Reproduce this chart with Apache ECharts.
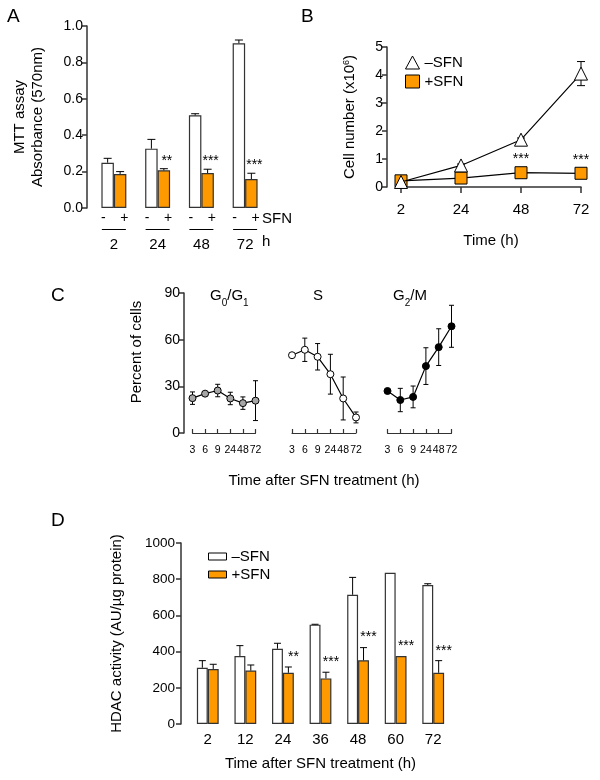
<!DOCTYPE html>
<html>
<head>
<meta charset="utf-8">
<script src="https://cdn.jsdelivr.net/npm/echarts@6/dist/echarts.min.js"></script>
<style>
html, body { margin: 0; padding: 0; background: #fff; }
#chart { width: 600px; height: 780px; }
</style>
</head>
<body>
<div id="chart"></div>
<script>
// Panel A - MTT assay (absorbance)
const mttTimes = ['2', '24', '48', '72'];
const mttMinus = [0.249, 0.326, 0.509, 0.905];
const mttMinusErr = [0.024, 0.051, 0.009, 0.018];
const mttPlus = [0.187, 0.207, 0.192, 0.159];
const mttPlusErr = [0.013, 0.009, 0.021, 0.032];
const mttStars = ['', '**', '***', '***'];

// Panel B - cell number (x10^6)
const cellTimes = ['2', '24', '48', '72'];
const cellMinus = [0.18, 0.77, 1.69, 4.05];
const cellMinusErr = [0.03, 0.05, 0.06, 0.43];
const cellPlus = [0.22, 0.32, 0.51, 0.49];
const cellPlusErr = [0.03, 0.04, 0.04, 0.04];
const cellStars = ['', '', '***', '***'];

// Panel C - cell cycle distribution (%)
const cycleTimes = ['3', '6', '9', '24', '48', '72'];
const g0g1 = [22.4, 25.3, 27.3, 22.2, 19.2, 20.8];
const g0g1Err = [4, 1, 4, 4, 4, 12.8];
const sPhase = [50, 53.5, 49, 37.8, 22.2, 10];
const sPhaseErr = [0, 7.5, 8.5, 12.8, 13.8, 3.5];
const g2m = [27, 21.2, 23.2, 43, 55.2, 68.6];
const g2mErr = [0, 7.5, 7, 11.8, 11.8, 13.5];

// Panel D - HDAC activity
const hdacTimes = ['2', '12', '24', '36', '48', '60', '72'];
const hdacMinus = [311, 376, 416, 549, 714, 836, 768];
const hdacMinusErr = [39, 57, 30, 2, 96, 0, 7];
const hdacPlus = [304, 295, 283, 252, 352, 376, 283];
const hdacPlusErr = [26, 31, 32, 34, 70, 0, 67];
const hdacStars = ['', '', '**', '***', '***', '***', '***'];

const FONT = 'Liberation Sans, Arial, Helvetica, sans-serif';
const ORANGE = '#FF9900';
const AXIS = '#333';

const chart = echarts.init(document.getElementById('chart'));

function errorBars(xIdx, yIdx, means, errs, opts) {
  return {
    type: 'custom',
    xAxisIndex: xIdx,
    yAxisIndex: yIdx,
    z: opts.z || 3,
    silent: true,
    data: means.map((m, i) => [i, m, errs[i]]),
    renderItem: function (params, api) {
      const i = api.value(0);
      const mean = api.value(1);
      const err = api.value(2);
      const band = api.size([1, 0])[0];
      const x = api.coord([i, mean])[0] + (opts.shift || 0) * band;
      const yHi = api.coord([i, mean + err])[1];
      const yLo = api.coord([i, opts.both ? mean - err : mean])[1];
      const st = { stroke: '#000', lineWidth: 1 };
      const children = [];
      if (err > 0) {
        children.push({ type: 'line', shape: { x1: x, y1: yLo, x2: x, y2: yHi }, style: st });
        children.push({ type: 'line', shape: { x1: x - opts.cap, y1: yHi, x2: x + opts.cap, y2: yHi }, style: st });
        if (opts.both) {
          children.push({ type: 'line', shape: { x1: x - opts.cap, y1: yLo, x2: x + opts.cap, y2: yLo }, style: st });
        }
      }
      const star = opts.stars ? opts.stars[params.dataIndex] : '';
      if (star) {
        children.push({
          type: 'text',
          style: {
            text: star, x: x + (opts.starDx || 0), y: yHi - opts.starGap,
            align: 'center', verticalAlign: 'bottom',
            fontSize: 14, fontFamily: FONT, fill: '#000'
          }
        });
      }
      return { type: 'group', children: children };
    }
  };
}

function valueAxis(grid, min, max, interval, offset, extra) {
  return Object.assign({
    type: 'value', gridIndex: grid, min: min, max: max, interval: interval, offset: offset,
    splitLine: { show: false },
    axisLine: { show: true, lineStyle: { color: AXIS, width: 1.5 } },
    axisTick: { show: true, length: 5, lineStyle: { color: AXIS, width: 1.5 } },
    axisLabel: { fontSize: 14, fontFamily: FONT, color: '#000', margin: 4 },
    nameLocation: 'middle',
    nameTextStyle: { fontSize: 15, fontFamily: FONT, color: '#000' }
  }, extra || {});
}

function cycleXAxis(grid, extra) {
  return Object.assign({
    type: 'category', gridIndex: grid, data: cycleTimes, boundaryGap: false, offset: 9,
    axisLine: { show: true, lineStyle: { color: AXIS, width: 1.2 } },
    axisTick: { show: true, inside: true, length: 4, lineStyle: { color: AXIS, width: 1.2 } },
    axisLabel: { interval: 0, fontSize: 10.5, fontFamily: FONT, color: '#000', margin: 3 }
  }, extra || {});
}

function cycleLine(idx, name, values, fill) {
  return {
    type: 'line', name: name, xAxisIndex: idx, yAxisIndex: idx, data: values,
    symbol: 'circle', symbolSize: 7, z: 4,
    lineStyle: { color: '#000', width: 1.2 },
    itemStyle: { color: fill, borderColor: '#000', borderWidth: 1 }
  };
}

const subRich = {
  g: { fontSize: 15, fontFamily: FONT, lineHeight: 20, verticalAlign: 'top' },
  s: { fontSize: 10, fontFamily: FONT, lineHeight: 20, verticalAlign: 'bottom' }
};

const option = {
  animation: false,
  backgroundColor: '#fff',
  textStyle: { fontFamily: FONT },
  grid: [
    { left: 92, top: 26, width: 175, height: 182 },
    { left: 401, top: 47, width: 180, height: 140 },
    { left: 192.5, top: 293, width: 63, height: 140 },
    { left: 292, top: 293, width: 64, height: 140 },
    { left: 387.5, top: 293, width: 64, height: 140 },
    { left: 189, top: 543, width: 263, height: 181 }
  ],
  legend: [
    {
      orient: 'vertical', left: 400, top: 50, itemWidth: 14, itemHeight: 13, itemGap: 4,
      textStyle: { fontSize: 15, fontFamily: FONT, color: '#000' },
      data: [
        { name: '–SFN', icon: 'triangle', itemStyle: { color: '#fff', borderColor: '#000', borderWidth: 1 } },
        { name: '+SFN', icon: 'rect', itemStyle: { color: ORANGE, borderColor: '#000', borderWidth: 1 } }
      ]
    },
    {
      orient: 'vertical', left: 203, top: 544, itemWidth: 18, itemHeight: 7, itemGap: 3,
      textStyle: { fontSize: 15, fontFamily: FONT, color: '#000' },
      formatter: n => n.replace('HDAC ', ''),
      data: [
        { name: 'HDAC –SFN', icon: 'rect', itemStyle: { color: '#fff', borderColor: '#000', borderWidth: 1 } },
        { name: 'HDAC +SFN', icon: 'rect', itemStyle: { color: ORANGE, borderColor: '#000', borderWidth: 1 } }
      ]
    }
  ],
  xAxis: [
    {
      type: 'category', gridIndex: 0, data: mttTimes,
      axisLine: { show: false }, axisTick: { show: false },
      axisLabel: {
        interval: 0, margin: 2, fontFamily: FONT, color: '#000',
        formatter: v => '{m|-}{p|+}\n{ln| }\n{t|' + v + '}',
        rich: {
          m: { width: 21, align: 'center', fontSize: 14, lineHeight: 16 },
          p: { width: 21, align: 'center', fontSize: 14, lineHeight: 16 },
          ln: { width: 24, height: 1, lineHeight: 7, backgroundColor: '#000', fontSize: 1 },
          t: { fontSize: 15, lineHeight: 20, padding: [3, 0, 0, 0] }
        }
      }
    },
    {
      type: 'category', gridIndex: 1, data: cellTimes, boundaryGap: false, offset: 6,
      axisLine: { show: true, lineStyle: { color: AXIS, width: 1.5 } },
      axisTick: { show: true, length: 6, lineStyle: { color: AXIS, width: 1.5 } },
      axisLabel: { fontSize: 15, fontFamily: FONT, color: '#000', margin: 9 },
      name: 'Time (h)', nameLocation: 'middle', nameGap: 40,
      nameTextStyle: { fontSize: 15, fontFamily: FONT, color: '#000' }
    },
    cycleXAxis(2),
    cycleXAxis(3, {
      name: 'Time after SFN treatment (h)', nameLocation: 'middle', nameGap: 31,
      nameTextStyle: { fontSize: 15, fontFamily: FONT, color: '#000' }
    }),
    cycleXAxis(4),
    {
      type: 'category', gridIndex: 5, data: hdacTimes,
      axisLine: { show: false }, axisTick: { show: false },
      axisLabel: { interval: 0, fontSize: 15, fontFamily: FONT, color: '#000', margin: 8 },
      name: 'Time after SFN treatment (h)', nameLocation: 'middle', nameGap: 32,
      nameTextStyle: { fontSize: 15, fontFamily: FONT, color: '#000' }
    }
  ],
  yAxis: [
    valueAxis(0, 0, 1, 0.2, 5, {
      axisLabel: { fontSize: 14, fontFamily: FONT, color: '#000', margin: 4, formatter: v => v.toFixed(1) },
      name: 'MTT assay\nAbsorbance (570nm)', nameGap: 40,
      nameTextStyle: { fontSize: 15, fontFamily: FONT, color: '#000', lineHeight: 18 }
    }),
    valueAxis(1, 0, 5, 1, 14, {
      name: 'Cell number (x10{sup|6})', nameGap: 30,
      nameTextStyle: {
        fontSize: 15, fontFamily: FONT, color: '#000',
        rich: { sup: { fontSize: 9, fontFamily: FONT, verticalAlign: 'top', lineHeight: 15 } }
      }
    }),
    valueAxis(2, 0, 90, 30, 8.5, {
      name: 'Percent of cells', nameGap: 40,
      nameTextStyle: { fontSize: 15, fontFamily: FONT, color: '#000', padding: [0, 0, 0, 22] }
    }),
    valueAxis(3, 0, 90, 30, 0, { show: false }),
    valueAxis(4, 0, 90, 30, 0, { show: false }),
    valueAxis(5, 0, 1000, 200, 8, {
      axisLabel: { fontSize: 13.5, fontFamily: FONT, color: '#000', margin: 6, formatter: v => String(v) },
      name: 'HDAC activity (AU/µg protein)', nameGap: 57
    })
  ],
  series: [
    // A
    {
      type: 'bar', name: 'MTT –SFN', xAxisIndex: 0, yAxisIndex: 0, data: mttMinus,
      barWidth: '28.5%', barGap: '0%',
      itemStyle: { color: '#fff', borderColor: AXIS, borderWidth: 1.2 }
    },
    {
      type: 'bar', name: 'MTT +SFN', xAxisIndex: 0, yAxisIndex: 0, data: mttPlus,
      barWidth: '28.5%', barGap: '0%',
      itemStyle: { color: ORANGE, borderColor: AXIS, borderWidth: 1.2 }
    },
    errorBars(0, 0, mttMinus, mttMinusErr, { shift: -0.1425, cap: 4 }),
    errorBars(0, 0, mttPlus, mttPlusErr, { shift: 0.1425, cap: 4, stars: mttStars, starGap: 1, starDx: 3 }),
    // B
    errorBars(1, 1, cellMinus, cellMinusErr, { both: true, cap: 4, z: 2 }),
    errorBars(1, 1, cellPlus, cellPlusErr, { both: true, cap: 4, z: 2, stars: cellStars, starGap: 5 }),
    {
      type: 'line', name: '+SFN', xAxisIndex: 1, yAxisIndex: 1, data: cellPlus,
      symbol: 'rect', symbolSize: 12, z: 4,
      lineStyle: { color: '#000', width: 1.2 },
      itemStyle: { color: ORANGE, borderColor: '#000', borderWidth: 1 }
    },
    {
      type: 'line', name: '–SFN', xAxisIndex: 1, yAxisIndex: 1, data: cellMinus,
      symbol: 'triangle', symbolSize: 13, z: 5,
      lineStyle: { color: '#000', width: 1.2 },
      itemStyle: { color: '#fff', borderColor: '#000', borderWidth: 1 }
    },
    // C
    errorBars(2, 2, g0g1, g0g1Err, { both: true, cap: 2.5, z: 2 }),
    errorBars(3, 3, sPhase, sPhaseErr, { both: true, cap: 2.5, z: 2 }),
    errorBars(4, 4, g2m, g2mErr, { both: true, cap: 2.5, z: 2 }),
    cycleLine(2, 'G0/G1', g0g1, '#a6a6a6'),
    cycleLine(3, 'S', sPhase, '#fff'),
    cycleLine(4, 'G2/M', g2m, '#000'),
    // D
    {
      type: 'bar', name: 'HDAC –SFN', xAxisIndex: 5, yAxisIndex: 5, data: hdacMinus,
      barWidth: '29%', barGap: '0%',
      itemStyle: { color: '#fff', borderColor: AXIS, borderWidth: 1.2 }
    },
    {
      type: 'bar', name: 'HDAC +SFN', xAxisIndex: 5, yAxisIndex: 5, data: hdacPlus,
      barWidth: '29%', barGap: '0%',
      itemStyle: { color: ORANGE, borderColor: AXIS, borderWidth: 1.2 }
    },
    errorBars(5, 5, hdacMinus, hdacMinusErr, { shift: -0.145, cap: 3.5 }),
    errorBars(5, 5, hdacPlus, hdacPlusErr, { shift: 0.145, cap: 3.5, stars: hdacStars, starGap: 3, starDx: 5 })
  ],
  graphic: [
    { type: 'text', left: 7, top: 7, style: { text: 'A', fontSize: 19, fontFamily: FONT, fill: '#000' } },
    { type: 'text', left: 301, top: 7, style: { text: 'B', fontSize: 19, fontFamily: FONT, fill: '#000' } },
    { type: 'text', left: 51, top: 286, style: { text: 'C', fontSize: 19, fontFamily: FONT, fill: '#000' } },
    { type: 'text', left: 51, top: 511, style: { text: 'D', fontSize: 19, fontFamily: FONT, fill: '#000' } },
    { type: 'text', left: 262, top: 211, style: { text: 'SFN', fontSize: 15, fontFamily: FONT, fill: '#000' } },
    { type: 'text', left: 262, top: 234, style: { text: 'h', fontSize: 15, fontFamily: FONT, fill: '#000' } },
    {
      type: 'text', left: 210, top: 288,
      style: { text: '{g|G}{s|0}{g|/G}{s|1}', fill: '#000', rich: subRich }
    },
    {
      type: 'text', left: 313, top: 288,
      style: { text: '{g|S}', fill: '#000', rich: subRich }
    },
    {
      type: 'text', left: 393, top: 288,
      style: { text: '{g|G}{s|2}{g|/M}', fill: '#000', rich: subRich }
    }
  ]
};

chart.setOption(option);
</script>
</body>
</html>
